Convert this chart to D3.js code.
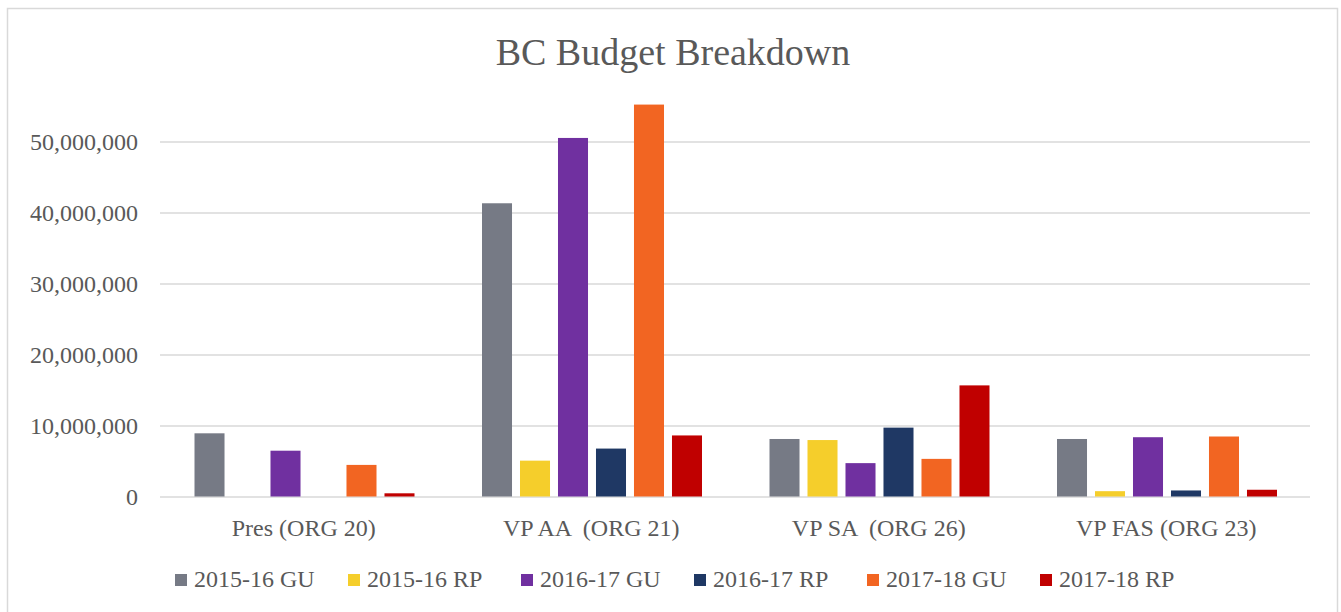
<!DOCTYPE html>
<html>
<head>
<meta charset="utf-8">
<style>
    body { margin: 0; background: #fff; }
    svg { font-family: 'Liberation Serif', 'Times New Roman', serif; }
    .y .domain, .x .domain { display: none; }
    .y .tick line { stroke: #d9d9d9; stroke-width: 1.5px; }
    .y .tick text { font-size: 24px; fill: #595959; }
    .x .tick line { display: none; }
    .x .tick text { font-size: 24px; fill: #595959; white-space: pre; }
    .legend text { font-size: 24px; fill: #595959; }
</style>
</head>
<body>
<svg width="1341" height="612"></svg>
<script src="https://d3js.org/d3.v7.min.js"></script>
<script>
// categories and series (dollars)
const categories = ["Pres (ORG 20)", "VP AA  (ORG 21)", "VP SA  (ORG 26)", "VP FAS (ORG 23)"];
const seriesNames = ["2015-16 GU", "2015-16 RP", "2016-17 GU", "2016-17 RP", "2017-18 GU", "2017-18 RP"];
const seriesColors = ["#767a85", "#f5ce2b", "#7030a0", "#1f3864", "#f26522", "#c00000"];
const gu1516 = [8900000, 41300000, 8100000, 8100000];
const rp1516 = [0, 5050000, 7950000, 750000];
const gu1617 = [6450000, 50500000, 4700000, 8350000];
const rp1617 = [0, 6750000, 9700000, 850000];
const gu1718 = [4450000, 55200000, 5300000, 8450000];
const rp1718 = [450000, 8600000, 15650000, 950000];
const yTicks = [0, 10000000, 20000000, 30000000, 40000000, 50000000];

let seriesValues = [gu1516, rp1516, gu1617, rp1617, gu1718, rp1718];

let svg = d3.select("svg");

// chart frame
svg.append("rect")
    .attr("x", 7.5).attr("y", 8.5)
    .attr("width", 1330).attr("height", 640)
    .style("fill", "none")
    .style("stroke", "#d9d9d9")
    .style("stroke-width", 1.5);

let margin = { left: 160, right: 31 };
let width = 1341;

let x0 = d3.scaleBand()
    .domain(categories)
    .range([margin.left, width - margin.right])
    .paddingInner(0)
    .paddingOuter(0);

let groupPad = 34.5;
let x1 = d3.scaleBand()
    .domain(seriesNames)
    .range([groupPad, x0.bandwidth() - groupPad + 1.5])
    .paddingInner(0.21)
    .paddingOuter(0);

let y = d3.scaleLinear()
    .domain([0, 50000000])
    .range([496.5, 141.5]);

let yAxisSettings = d3.axisLeft(y)
    .tickValues(yTicks)
    .tickSize(-(x0.range()[1] - x0.range()[0]))
    .tickPadding(22)
    .tickFormat(d3.format(","));

svg.append("g")
    .attr("class", "y axis")
    .attr("transform", `translate(${margin.left},0)`)
    .call(yAxisSettings)
    .attr("font-family", null);

let xAxisSettings = d3.axisBottom(x0)
    .tickSize(0)
    .tickPadding(22);

svg.append("g")
    .attr("class", "x axis")
    .attr("transform", `translate(0,${y(0)})`)
    .call(xAxisSettings)
    .attr("font-family", null);

// bars
let groups = svg.append("g").selectAll("g")
    .data(categories)
    .join("g")
    .attr("transform", d => `translate(${x0(d)},0)`);

groups.selectAll("rect")
    .data((c, ci) => seriesNames.map((s, si) => ({ s: s, i: si, v: seriesValues[si][ci] })))
    .join("rect")
    .attr("x", d => x1(d.s))
    .attr("width", x1.bandwidth())
    .attr("y", d => y(d.v))
    .attr("height", d => y(0) - y(d.v))
    .style("fill", d => seriesColors[d.i]);

// title
svg.append("text")
    .attr("x", 673)
    .attr("y", 65)
    .attr("text-anchor", "middle")
    .style("font-size", "38px")
    .style("fill", "#595959")
    .text("BC Budget Breakdown");

// legend
let legendX = d3.scalePoint()
    .domain(seriesNames)
    .range([175, 1040]);

let legend = svg.append("g")
    .attr("class", "legend")
    .selectAll("g")
    .data(seriesNames)
    .join("g")
    .attr("transform", d => `translate(${legendX(d)},574)`);

legend.append("rect")
    .attr("width", 12)
    .attr("height", 12)
    .style("fill", (d, i) => seriesColors[i]);

legend.append("text")
    .attr("x", 19)
    .attr("y", 13)
    .text(d => d);
</script>
</body>
</html>
